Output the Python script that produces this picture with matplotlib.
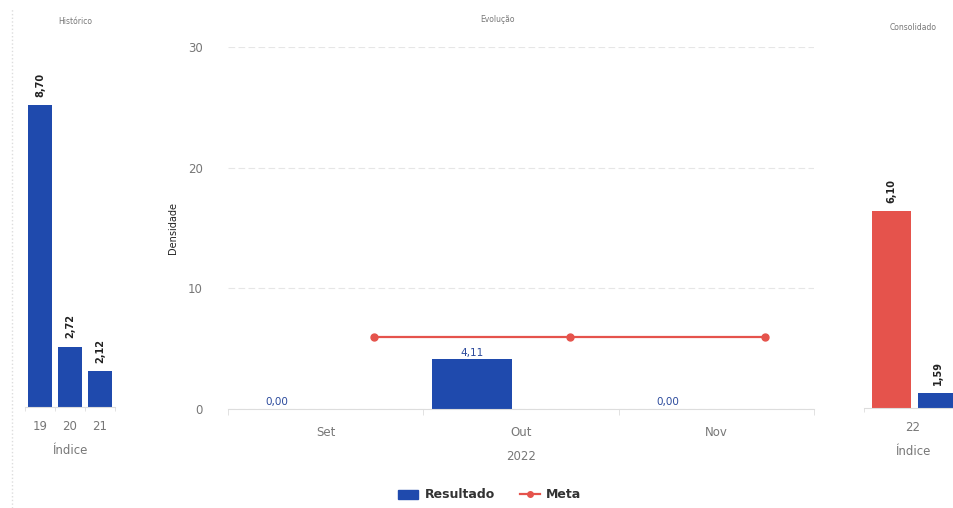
import numpy as np
import matplotlib
matplotlib.use('Agg')
import matplotlib.pyplot as plt
from matplotlib.lines import Line2D
from matplotlib.patches import Patch

# Histórico
hist_idx = ['19', '20', '21']
hist_vals = [8.70, 2.72, 2.12]

# Evolução
months = ['Set', 'Out', 'Nov']
resultado = [0.00, 4.11, 0.00]
meta = [6.0, 6.0, 6.0]

# Consolidado
cons_idx = ['22']
cons_meta = [6.10]
cons_res = [1.59]

BLUE = '#1f4aad'
RED = '#e5534c'
GRAY = '#777777'

W, H = 954, 508
fig = plt.figure(figsize=(W / 100, H / 100), dpi=100)


def box(x0, x1, ytop, ybot):
    return [x0 / W, 1 - ybot / H, (x1 - x0) / W, (ybot - ytop) / H]


def fmt(v):
    return f'{v:.2f}'.replace('.', ',')


def side_panel(ax, labels, series, colors, width, offsets):
    x = np.arange(len(labels))
    for vals, col, off in zip(series, colors, offsets):
        ax.bar(x + off, vals, width=width, color=col, zorder=2)
        for xi, v in zip(x + off, vals):
            ax.text(xi, v + 0.2, fmt(v), rotation=90, ha='center', va='bottom',
                    fontsize=7, fontweight='bold', color='#222222')
    ax.set_xlim(-0.5, len(labels) - 0.5)
    ax.set_ylim(1.22, 10.15)
    ax.set_xticks(x)
    ax.set_xticklabels(labels)
    ax.set_xticks(np.arange(len(labels) + 1) - 0.5, minor=True)
    ax.tick_params(axis='x', which='major', length=0, labelsize=8.5, colors=GRAY, pad=9.5)
    ax.tick_params(axis='x', which='minor', length=3, color='#dddddd')
    ax.set_yticks([])
    for s in ['top', 'right', 'left']:
        ax.spines[s].set_visible(False)
    ax.spines['bottom'].set_color('#dddddd')
    ax.set_xlabel('Índice', fontsize=8.5, color=GRAY, labelpad=8)


# left panel
ax1 = fig.add_axes(box(25, 115, 47, 407))
side_panel(ax1, hist_idx, [hist_vals], [BLUE], 0.8, [0.0])
fig.text(75 / W, 1 - 21 / H, 'Histórico', fontsize=5.5, color=GRAY, ha='center', va='center')
fig.add_artist(Line2D([12 / W, 12 / W], [0.0, 1 - 8 / H], color='#dddddd',
                      lw=1, ls=':'))

# middle panel
ax2 = fig.add_axes(box(228, 814, 47, 409))
x = np.arange(len(months))
ax2.bar(x - 0.25, resultado, width=0.41, color=BLUE, zorder=2)
for xi, v in zip(x - 0.25, resultado):
    ax2.text(xi, v + 0.15, fmt(v), ha='center', va='bottom', fontsize=7.5, color='#2b4a9c')
ax2.plot(x + 0.25, meta, color=RED, lw=1.6, marker='o', ms=5, zorder=3)
ax2.set_xlim(-0.5, 2.5)
ax2.set_ylim(0, 30)
ax2.set_yticks([0, 10, 20, 30])
ax2.yaxis.grid(True, color='#e6e6e6', lw=0.8, ls=(0, (6, 3)), zorder=0)
ax2.set_xticks(x)
ax2.set_xticklabels(months)
ax2.set_xticks(np.arange(4) - 0.5, minor=True)
ax2.tick_params(axis='x', which='major', length=0, labelsize=8.5, colors=GRAY, pad=12)
ax2.tick_params(axis='x', which='minor', length=4, color='#dddddd')
ax2.tick_params(axis='y', length=0, labelsize=8.5, colors=GRAY, pad=18)
for s in ['top', 'right', 'left']:
    ax2.spines[s].set_visible(False)
ax2.spines['bottom'].set_color('#dddddd')
ax2.set_xlabel('2022', fontsize=8.5, color=GRAY, labelpad=8)
ax2.set_ylabel('Densidade', fontsize=7, color='#222222', labelpad=7)
fig.text(498 / W, 1 - 20 / H, 'Evolução', fontsize=5.5, color=GRAY, ha='center', va='center')

handles = [Patch(facecolor=BLUE, edgecolor=BLUE),
           Line2D([], [], color=RED, lw=1.6, marker='o', ms=4)]
fig.legend(handles, ['Resultado', 'Meta'], loc='center', bbox_to_anchor=(490 / W, 1 - 495 / H),
           ncol=2, frameon=False, handlelength=1.6, columnspacing=2.0,
           handletextpad=0.5, prop={'weight': 'semibold', 'size': 9},
           labelcolor='#333333')

# right panel (cut at image edge)
ax3 = fig.add_axes(box(864, 962, 47, 408))
side_panel(ax3, cons_idx, [cons_meta, cons_res], [RED, BLUE], 0.39, [-0.22, 0.25])
fig.text(913 / W, 1 - 28 / H, 'Consolidado', fontsize=5.5, color=GRAY, ha='center', va='center')

fig.savefig('out.png', dpi=100)
